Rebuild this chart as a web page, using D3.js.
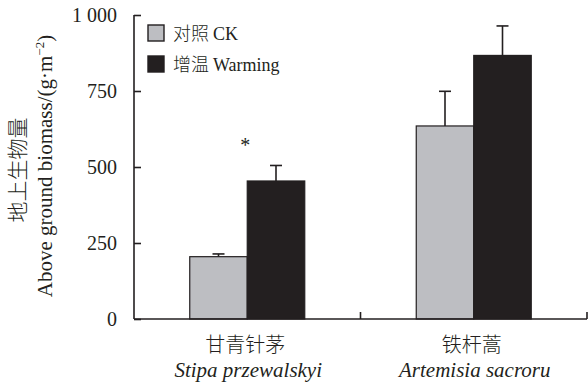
<!DOCTYPE html>
<html lang="en">
<head>
    <meta charset="UTF-8">
    <title>Above ground biomass</title>
    <script src="https://d3js.org/d3.v7.min.js"></script>
    <style>
        body { margin: 0; background: #fff; }
        text { fill: #231f20; }
    </style>
</head>
<body>
    <div id="chart"></div>
    <script>
        // Data
        const species = ["甘青针茅", "铁杆蒿"];
        const speciesLatin = ["Stipa przewalskyi", "Artemisia sacroru"];
        const treatments = ["CK", "Warming"];
        const treatmentLabels = ["对照 CK", "增温 Warming"];
        const ckValues = [205, 635];
        const ckErrors = [9, 114];
        const warmValues = [454, 867];
        const warmErrors = [51, 97];
        const yTicks = [0, 250, 500, 750, 1000];
        const yTickLabels = ["0", "250", "500", "750", "1 000"];
        const colors = { CK: "#bdbec2", Warming: "#231f20" };

        const SERIF = "'Liberation Serif', 'Times New Roman', serif";
        const CJK = "'Noto Sans CJK SC', sans-serif";

        const width = 588, height = 387;
        const margin = { top: 15, right: 1, bottom: 68, left: 134 };

        const svg = d3.select("#chart").append("svg")
            .attr("width", width)
            .attr("height", height);

        const plot = svg.append("g")
            .attr("transform", `translate(${margin.left},${margin.top})`);

        const innerW = width - margin.left - margin.right;
        const innerH = height - margin.top - margin.bottom;

        const x = d3.scaleBand().domain(species).range([0, innerW]);
        const xInner = d3.scaleBand().domain(treatments).range([0, 115]);
        const y = d3.scaleLinear().domain([0, 1000]).range([innerH, 0]);

        const rows = species.map((s, i) => ({
            species: s,
            values: [
                { key: "CK", value: ckValues[i], err: ckErrors[i] },
                { key: "Warming", value: warmValues[i], err: warmErrors[i] }
            ]
        }));

        // Bars
        const groups = plot.selectAll(".group")
            .data(rows)
            .join("g")
            .attr("class", "group")
            .attr("transform", d => `translate(${x(d.species) + x.bandwidth() / 2 - 57.5},0)`);

        groups.selectAll("rect")
            .data(d => d.values)
            .join("rect")
            .attr("x", d => xInner(d.key))
            .attr("y", d => y(d.value))
            .attr("width", xInner.bandwidth())
            .attr("height", d => innerH - y(d.value))
            .attr("fill", d => colors[d.key])
            .attr("stroke", "#231f20")
            .attr("stroke-width", 1.2);

        // Error bars (upper only)
        const err = groups.selectAll(".err")
            .data(d => d.values)
            .join("g")
            .attr("class", "err")
            .attr("stroke", "#231f20")
            .attr("stroke-width", 1.6);
        err.append("line")
            .attr("x1", d => xInner(d.key) + xInner.bandwidth() / 2)
            .attr("x2", d => xInner(d.key) + xInner.bandwidth() / 2)
            .attr("y1", d => y(d.value))
            .attr("y2", d => y(d.value + d.err));
        err.append("line")
            .attr("x1", d => xInner(d.key) + xInner.bandwidth() / 2 - 6)
            .attr("x2", d => xInner(d.key) + xInner.bandwidth() / 2 + 6)
            .attr("y1", d => y(d.value + d.err))
            .attr("y2", d => y(d.value + d.err));

        // Significance mark
        plot.append("text")
            .style("font-family", SERIF)
            .attr("x", x(species[0]) + x.bandwidth() / 2 - 2)
            .attr("y", y(warmValues[0] + warmErrors[0]) - 13)
            .attr("text-anchor", "middle")
            .attr("font-size", 20)
            .text("*");

        // Y axis
        const yAxis = plot.append("g")
            .call(d3.axisLeft(y).tickValues(yTicks).tickSize(-7).tickPadding(17)
                .tickFormat((d, i) => yTickLabels[i]));
        yAxis.select(".domain").attr("d", `M0,0H0V${innerH}`);
        yAxis.selectAll("path, line").attr("stroke", "#231f20").attr("stroke-width", 1.6);
        yAxis.selectAll("text")
            .style("font-family", SERIF)
            .style("font-size", "20px")
            .style("fill", "#231f20");

        // X axis with separators between categories
        const xAxis = plot.append("g")
            .attr("transform", `translate(0,${innerH})`);
        xAxis.append("line")
            .attr("x1", 0).attr("x2", innerW)
            .attr("stroke", "#231f20").attr("stroke-width", 1.6);
        xAxis.selectAll(".sep")
            .data(species)
            .join("line")
            .attr("class", "sep")
            .attr("x1", d => x(d) + x.bandwidth())
            .attr("x2", d => x(d) + x.bandwidth())
            .attr("y1", 0).attr("y2", -7)
            .attr("stroke", "#231f20").attr("stroke-width", 1.6);

        xAxis.selectAll(".cn")
            .data(species)
            .join("text")
            .attr("class", "cn")
            .style("font-family", CJK)
            .style("font-weight", 300)
            .attr("x", d => x(d) + x.bandwidth() / 2 - 2)
            .attr("y", 33)
            .attr("text-anchor", "middle")
            .attr("font-size", 20)
            .text(d => d);
        xAxis.selectAll(".lat")
            .data(speciesLatin)
            .join("text")
            .attr("class", "lat")
            .style("font-family", SERIF)
            .attr("x", (d, i) => x(species[i]) + x.bandwidth() / 2 + 1)
            .attr("y", 58)
            .attr("text-anchor", "middle")
            .attr("font-size", 21)
            .attr("font-style", "italic")
            .text(d => d);

        // Y axis title
        svg.append("text")
            .style("font-family", CJK)
            .style("font-weight", 300)
            .attr("transform", "translate(25,170) rotate(-90)")
            .attr("text-anchor", "middle")
            .attr("font-size", 21)
            .text("地上生物量");
        const t2 = svg.append("text")
            .style("font-family", SERIF)
            .attr("transform", "translate(52,166) rotate(-90)")
            .attr("text-anchor", "middle")
            .attr("font-size", 21);
        t2.append("tspan").text("Above ground biomass/(g·m");
        t2.append("tspan").attr("dy", -8).attr("font-size", 13).text("−2");
        t2.append("tspan").attr("dy", 8).text(")");

        // Legend
        const legend = svg.append("g").attr("transform", "translate(148,25)");
        const items = legend.selectAll("g")
            .data(treatments)
            .join("g")
            .attr("transform", (d, i) => `translate(0,${i * 31})`);
        items.append("rect")
            .attr("width", 16).attr("height", 16)
            .attr("fill", d => colors[d])
            .attr("stroke", "#231f20").attr("stroke-width", 1.4);
        items.append("text")
            .attr("x", 25).attr("y", 15)
            .attr("font-size", 18)
            .each(function(d, i) {
                const parts = treatmentLabels[i].split(" ");
                const t = d3.select(this);
                t.append("tspan").style("font-family", CJK).style("font-weight", 300).text(parts[0] + " ");
                t.append("tspan").style("font-family", SERIF).text(parts[1]);
            });
    </script>
</body>
</html>
